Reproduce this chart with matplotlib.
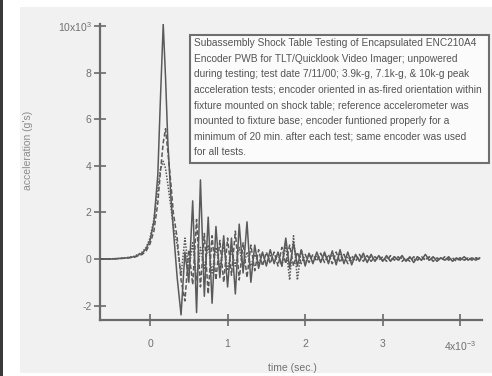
import numpy as np
import matplotlib
matplotlib.use("Agg")
import matplotlib.pyplot as plt
from matplotlib.patches import Rectangle

plt.rcParams['font.family'] = ['Liberation Sans', 'DejaVu Sans']
plt.rcParams['mathtext.fontset'] = 'custom'
plt.rcParams['mathtext.rm'] = 'Liberation Sans'
plt.rcParams['mathtext.it'] = 'Liberation Sans'

# ---- data (time in ms, acceleration in 10^3 g) ----
t_rise = [-0.65, -0.5, -0.4, -0.3, -0.2, -0.1, -0.05, 0.0, 0.05, 0.1,
          0.13, 0.17, 0.2, 0.23, 0.27, 0.3]
t_tail = np.round(np.arange(0.35, 4.2501, 0.05), 2)

g10_rise = [0.0, 0.0, 0.02, 0.05, 0.1, 0.25, 0.45, 0.8, 1.6, 3.6,
            6.5, 10.1, 7.8, 5.0, 2.6, 1.3]
g7_rise = [0.0, 0.0, 0.02, 0.04, 0.08, 0.2, 0.35, 0.65, 1.2, 2.4,
           3.6, 5.0, 5.6, 4.6, 3.2, 2.0]
g4_rise = [0.0, 0.01, 0.03, 0.06, 0.12, 0.3, 0.5, 0.9, 1.7, 3.0,
           3.8, 4.2, 3.9, 3.2, 2.2, 1.4]

g10_tail = [-0.8, -2.4, 0.3, -1.0, 2.5, -2.3, 3.4, -1.6, 1.8, -1.9,
            1.4, -0.8, 1.0, -1.2, 0.9, -1.5, 1.5, -0.6, 1.6, -1.0,
            0.6, -0.4, 0.3, -0.3, 0.4, -0.2, 0.3, -0.3, 0.9, -0.4,
            0.7, -0.3, 0.4, -0.3, 0.25, -0.2, 0.3, -0.15, 0.3, -0.2,
            0.35, -0.25, 0.4, -0.2, 0.3, -0.25, 0.2, -0.1, 0.25, -0.15,
            0.2, -0.1, 0.15, -0.1, 0.15, -0.1, 0.1, -0.05, 0.15, -0.1,
            0.1, -0.15, 0.1, -0.05, 0.2, -0.05, 0.1, -0.1, 0.05, -0.05,
            0.1, -0.1, 0.05, -0.05, 0.1, -0.05, 0.05, -0.05, 0.05]
g7_tail = [0.9, -0.9, -1.8, 0.4, -1.1, 1.7, -1.2, 1.1, -1.5, 1.0,
           -0.9, 0.8, -1.0, 0.9, -0.7, 1.2, -0.9, 0.7, -0.8, 0.6,
           -0.5, 0.4, -0.3, 0.3, -0.2, 0.3, -0.3, 0.5, -0.2, 0.6,
           -0.3, 0.3, -0.2, 0.2, -0.15, 0.2, -0.1, 0.25, -0.15, 0.2,
           -0.2, 0.3, -0.15, 0.2, -0.2, 0.15, -0.1, 0.2, -0.1, 0.15,
           -0.1, 0.1, -0.05, 0.1, -0.1, 0.15, -0.05, 0.1, -0.1, 0.05,
           -0.1, 0.1, -0.05, 0.1, -0.05, 0.1, -0.1, 0.05, -0.05, 0.1,
           -0.05, 0.05, -0.1, 0.05, -0.05, 0.05, -0.05, 0.05, 0.0]
g4_tail = [0.6, -0.7, 0.9, -0.5, 0.7, -0.9, 0.5, -0.4, 0.6, -0.6,
           0.5, -0.4, 0.6, -0.5, 0.4, -0.3, 0.5, -0.4, 0.3, -0.3,
           0.2, -0.2, 0.25, -0.2, 0.15, -0.1, 0.2, -0.3, 0.6, -0.9,
           1.0, -0.9, 0.4, -0.2, 0.2, -0.1, 0.15, -0.1, 0.2, -0.1,
           0.15, -0.1, 0.2, -0.15, 0.1, -0.1, 0.15, -0.05, 0.1, -0.1,
           0.1, -0.05, 0.1, -0.05, 0.05, -0.05, 0.1, -0.05, 0.05, -0.05,
           0.05, -0.05, 0.1, -0.05, 0.05, -0.05, 0.05, 0.0, 0.05, -0.05,
           0.05, -0.05, 0.0, 0.05, -0.05, 0.05, 0.0, 0.05, 0.0]

x_ticks = [0, 1, 2, 3, 4]
x_ticklabels = ['0', '1', '2', '3', r'4x10$^{\mathrm{-3}}$']
y_ticks = [-2, 0, 2, 4, 6, 8, 10]
y_ticklabels = ['-2', '0', '2', '4', '6', '8', r'10x10$^{\mathrm{3}}$']

note = ("Subassembly Shock Table Testing of Encapsulated ENC210A4\n"
        "Encoder PWB for TLT/Quicklook Video Imager; unpowered\n"
        "during testing; test date 7/11/00; 3.9k-g, 7.1k-g, & 10k-g peak\n"
        "acceleration tests; encoder oriented in as-fired orientation within\n"
        "fixture mounted on shock table; reference accelerometer was\n"
        "mounted to fixture base; encoder funtioned properly for a\n"
        "minimum of 20 min. after each test; same encoder was used\n"
        "for all tests.")

# ---- figure ----
W, H = 492, 376
fig = plt.figure(figsize=(W / 100, H / 100), dpi=100, facecolor='white')

def fx(px):
    return px / W

def fy(py):
    return 1 - py / H

# scanned page background
fig.patches.append(Rectangle((fx(20), fy(373)), fx(472), (373 - 7) / H,
                             transform=fig.transFigure, facecolor='#f1f1f1',
                             edgecolor='none', zorder=-2))
fig.patches.append(Rectangle((0, 0), fx(3), 1, transform=fig.transFigure,
                             facecolor='#3a3a3a', edgecolor='none', zorder=-2))

ax = fig.add_axes([fx(100), fy(320), fx(482 - 100), (320 - 24) / H])
ax.set_facecolor('none')
ax.set_zorder(1)

gray = '#5a5a5a'
t_all = list(t_rise) + list(t_tail)
ax.plot(t_all, g4_rise + g4_tail, color=gray, lw=1.1, ls=(0, (1, 1)), zorder=2)
ax.plot(t_all, g7_rise + g7_tail, color=gray, lw=1.1, ls=(0, (3, 1.5)), zorder=3)
ax.plot(t_all, g10_rise + g10_tail, color=gray, lw=1.1, ls='-', zorder=4)

ax.set_xlim(-0.645, 4.28)
ax.set_ylim(-2.62, 10.1)
for s in ('top', 'right'):
    ax.spines[s].set_visible(False)
for s in ('left', 'bottom'):
    ax.spines[s].set_color('#6a6a6a')
    ax.spines[s].set_linewidth(1.6)

ax.set_xticks(x_ticks)
ax.set_xticklabels(x_ticklabels)
ax.set_yticks(y_ticks)
ax.set_yticklabels(y_ticklabels)
ax.tick_params(axis='both', direction='inout', length=8, width=1.2,
               color='#6a6a6a', labelcolor='#707070', labelsize=7.5)
ax.tick_params(axis='x', pad=10)
ax.tick_params(axis='y', pad=2)

ax.set_xlabel('time (sec.)', color='#707070', fontsize=7.5)
ax.xaxis.set_label_coords((292 - 100) / 382, -(363 - 320) / 296)
ax.set_ylabel("acceleration (g's)", color='#8a8a8a', fontsize=7.5)
ax.yaxis.set_label_coords((33 - 100) / 382, 1 - (150 - 24) / 296)

# annotation box
fig.patches.append(Rectangle((fx(190), fy(163)), fx(489 - 190), (163 - 35) / H,
                             transform=fig.transFigure, facecolor='#fbfbfb',
                             edgecolor='#6f6f6f', linewidth=1.5, zorder=5))
fig.text(fx(194), fy(38), note, ha='left', va='top', fontsize=7.3,
         color='#555555', linespacing=1.70, zorder=6)

fig.savefig('out.png', dpi=100, facecolor=fig.get_facecolor())
